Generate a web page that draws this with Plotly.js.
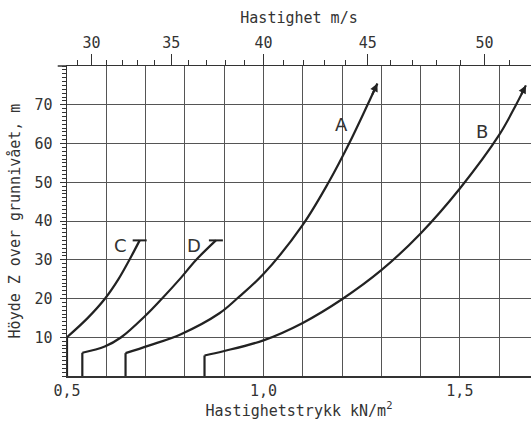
<!DOCTYPE html>
<html>
<head>
<meta charset="utf-8">
<script src="https://cdn.plot.ly/plotly-3.0.1.min.js"></script>
<style>html,body{margin:0;padding:0;background:#fff;}#chart{width:531px;height:426px;}</style>
</head>
<body>
<div id="chart"></div>
<script>
// Curve data: Hastighetstrykk q (kN/m2) vs height Z (m)
const curveNames = ['A', 'B', 'C', 'D'];
const curveA_q = [0.649, 0.71, 0.79, 0.888, 0.933, 1.0, 1.1, 1.166, 1.218, 1.265, 1.29];
const curveA_z = [5.9, 7.9, 10.8, 16.2, 20, 26.3, 39, 50, 60, 70, 75.5];
const curveB_q = [0.85, 0.898, 1.0, 1.1, 1.2, 1.3, 1.4, 1.5, 1.6, 1.643, 1.668];
const curveB_z = [5.3, 6.4, 9.2, 13.7, 19.8, 27.3, 36.8, 48.4, 62.2, 70, 75];
const curveC_q = [0.5, 0.553, 0.597, 0.631, 0.659, 0.685];
const curveC_z = [10, 15, 20, 25, 30, 35];
const curveD_q = [0.539, 0.596, 0.638, 0.7, 0.742, 0.787, 0.829, 0.879];
const curveD_z = [6, 7.6, 10, 15.6, 20, 25, 30, 35];

// Axis ticks
const qTickVals = [0.5, 1.0, 1.5];
const qTickText = ['0,5', '1,0', '1,5'];
const zTickVals = [10, 20, 30, 40, 50, 60, 70];
const velMajor = [30, 35, 40, 45, 50];
const velMinor = [29, 31, 32, 33, 34, 36, 37, 38, 39, 41, 42, 43, 44, 46, 47, 48, 49, 51];

// velocity (m/s) -> velocity pressure (kN/m2), q = v^2 / 1600
const vToQ = v => v * v / 1600;

const lineColor = '#222';
const gridColor = '#555';
const FONT = 'DejaVu Sans Mono, monospace';

const curves = [
  {name: 'A', q: curveA_q, z: curveA_z, arrow: true},
  {name: 'B', q: curveB_q, z: curveB_z, arrow: true},
  {name: 'C', q: curveC_q, z: curveC_z, arrow: false},
  {name: 'D', q: curveD_q, z: curveD_z, arrow: false}
];

const traces = [];
const annotations = [];
curves.forEach(c => {
  traces.push({
    x: c.q, y: c.z, mode: 'lines', type: 'scatter',
    line: {color: lineColor, width: 2.2, shape: 'spline', smoothing: 1.0, simplify: false},
    hoverinfo: 'skip', showlegend: false
  });
  traces.push({
    x: [c.q[0], c.q[0]], y: [0, c.z[0]], mode: 'lines', type: 'scatter',
    line: {color: lineColor, width: 2.2},
    hoverinfo: 'skip', showlegend: false
  });
  const n = c.q.length;
  if (c.arrow) {
    annotations.push({
      x: c.q[n - 1], y: c.z[n - 1], xref: 'x', yref: 'y',
      ax: c.q[n - 2], ay: c.z[n - 2], axref: 'x', ayref: 'y',
      showarrow: true, arrowhead: 2, arrowsize: 0.8, arrowwidth: 2,
      arrowcolor: lineColor, standoff: 0, startstandoff: 0, text: ' '
    });
  } else {
    traces.push({
      x: [c.q[n - 1]], y: [c.z[n - 1]], mode: 'markers', type: 'scatter',
      marker: {symbol: 'line-ew', size: 10, line: {color: lineColor, width: 2}},
      hoverinfo: 'skip', showlegend: false
    });
  }
});

// dummy trace for top axis
traces.push({x: [vToQ(velMajor[0])], y: [null], xaxis: 'x2', yaxis: 'y', mode: 'markers',
  hoverinfo: 'skip', showlegend: false});

// Curve letter labels
const labelPos = [
  {t: 'A', x: 1.198, y: 65},
  {t: 'B', x: 1.557, y: 63},
  {t: 'C', x: 0.636, y: 33.8},
  {t: 'D', x: 0.823, y: 33.6}
];
labelPos.forEach(l => annotations.push({
  x: l.x, y: l.y, xref: 'x', yref: 'y', text: l.t, showarrow: false,
  font: {family: 'DejaVu Sans, sans-serif', size: 18, color: '#333'}
}));

const qRange = [0.5, 1.681];

const layout = {
  width: 531, height: 426,
  margin: {l: 67, r: 0, t: 66, b: 50},
  paper_bgcolor: '#fff', plot_bgcolor: '#fff',
  font: {family: FONT, size: 15, color: '#333'},
  showlegend: false,
  xaxis: {
    range: qRange, tickmode: 'array', tickvals: qTickVals, ticktext: qTickText,
    ticks: '', showgrid: true, gridcolor: gridColor, gridwidth: 1,
    minor: {tickmode: 'linear', tick0: 0.5, dtick: 0.1, showgrid: true, gridcolor: gridColor, gridwidth: 1, ticks: ''},
    showline: true, linecolor: '#333', linewidth: 1.5, zeroline: false,
    tickfont: {family: FONT, size: 15, color: '#333'},
    title: {text: 'Hastighetstrykk kN/m<sup>2</sup>', font: {family: FONT, size: 15, color: '#333'}, standoff: 6}
  },
  xaxis2: {
    range: qRange, overlaying: 'x', side: 'top', anchor: 'y',
    tickmode: 'array', tickvals: velMajor.map(vToQ), ticktext: velMajor.map(String),
    ticks: 'outside', ticklen: 11, tickwidth: 1, tickcolor: '#333',
    minor: {tickmode: 'array', tickvals: velMinor.map(vToQ), ticks: 'outside', ticklen: 5, tickwidth: 1, tickcolor: '#333', showgrid: false},
    showgrid: false, showline: true, linecolor: '#333', linewidth: 1.5, zeroline: false,
    tickfont: {family: FONT, size: 15, color: '#333'},
    title: {text: 'Hastighet m/s', font: {family: FONT, size: 15, color: '#333'}, standoff: 6}
  },
  yaxis: {
    range: [0, 80], tickmode: 'array', tickvals: zTickVals, ticktext: zTickVals.map(String),
    ticks: 'outside', ticklen: 6, tickwidth: 1, tickcolor: '#333',
    minor: {tickmode: 'linear', tick0: 0, dtick: 1, ticks: 'outside', ticklen: 4, tickwidth: 1, tickcolor: '#333', showgrid: false},
    showgrid: true, gridcolor: gridColor, gridwidth: 1,
    showline: true, linecolor: '#333', linewidth: 1.5, zeroline: false,
    ticklabelstandoff: 4,
    tickfont: {family: FONT, size: 15, color: '#333'},
    title: {text: 'Höyde Z over grunnivået, m', font: {family: FONT, size: 15, color: '#333'}, standoff: 10}
  },
  shapes: [
    {type: 'line', xref: 'paper', yref: 'paper', x0: -0.02, x1: 0, y0: 1, y1: 1,
     line: {color: '#333', width: 1.5}}
  ],
  annotations: annotations
};

Plotly.newPlot('chart', traces, layout, {displayModeBar: false, staticPlot: true});
</script>
</body>
</html>
